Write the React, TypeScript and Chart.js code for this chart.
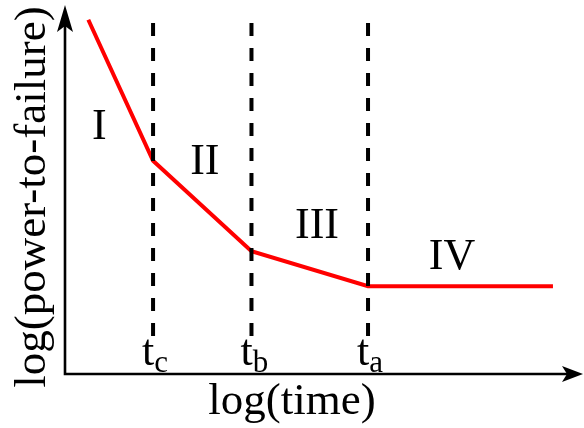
import React, { useEffect, useRef } from "react";
import { Chart, registerables } from "chart.js";

Chart.register(...registerables);

// log(time) breakpoints where the failure mechanism changes
const transitionNames = ["c", "b", "a"];
const transitionTimes = [1.7, 3.6, 5.85];

// red curve: log(time) vs log(power-to-failure)
const curveTime = [0.45, 1.7, 3.6, 5.85, 9.42];
const curvePower = [9.6, 5.78, 3.33, 2.38, 2.38];

// extent of the dashed separators (log power units)
const dashTop = 9.51;
const dashBottom = 0.79;

// regime labels
const regimeNames = ["I", "II", "III", "IV"];
const regimeTime = [0.665, 2.7, 4.865, 7.47];
const regimePower = [6.37, 5.42, 3.68, 2.85];

const xTitle = "log(time)";
const yTitle = "log(power-to-failure)";

const SERIF = '"Liberation Serif", "Times New Roman", serif';

const decorations = {
  id: "decorations",
  afterDraw(chart: any) {
    const { ctx, chartArea, scales } = chart;
    const xs = scales.x;
    const ys = scales.y;
    const left = chartArea.left;
    const bottom = chartArea.bottom;
    ctx.save();
    ctx.fillStyle = "#000";
    ctx.strokeStyle = "#000";

    // axes with arrow heads
    ctx.lineWidth = 2.6;
    ctx.lineCap = "butt";
    ctx.beginPath();
    ctx.moveTo(left, bottom + 1.3);
    ctx.lineTo(left, chartArea.top + 14);
    ctx.moveTo(left - 1.3, bottom);
    ctx.lineTo(chartArea.right - 14, bottom);
    ctx.stroke();

    // y arrow
    const ty = chartArea.top;
    ctx.beginPath();
    ctx.moveTo(left, ty);
    ctx.lineTo(left + 8, ty + 27);
    ctx.lineTo(left, ty + 21);
    ctx.lineTo(left - 8, ty + 27);
    ctx.closePath();
    ctx.fill();

    // x arrow
    const tx = chartArea.right;
    ctx.beginPath();
    ctx.moveTo(tx, bottom);
    ctx.lineTo(tx - 21, bottom - 8);
    ctx.lineTo(tx - 16, bottom);
    ctx.lineTo(tx - 21, bottom + 8);
    ctx.closePath();
    ctx.fill();

    // regime numerals
    ctx.font = `44px ${SERIF}`;
    ctx.textAlign = "center";
    ctx.textBaseline = "alphabetic";
    regimeNames.forEach((name, i) => {
      ctx.fillText(name, xs.getPixelForValue(regimeTime[i]), ys.getPixelForValue(regimePower[i]));
    });

    // transition labels t_c, t_b, t_a
    transitionNames.forEach((sub, i) => {
      const px = xs.getPixelForValue(transitionTimes[i]);
      ctx.textAlign = "left";
      ctx.font = `44px ${SERIF}`;
      const tx0 = px - 11;
      ctx.fillText("t", tx0, bottom - 9);
      const w = ctx.measureText("t").width;
      ctx.font = `31px ${SERIF}`;
      ctx.fillText(sub, tx0 + w, bottom - 2);
    });

    // axis titles
    ctx.font = `45px ${SERIF}`;
    ctx.textAlign = "center";
    ctx.fillText(xTitle, 292, bottom + 40);

    ctx.save();
    ctx.translate(45, 197);
    ctx.rotate(-Math.PI / 2);
    ctx.fillText(yTitle, 0, 0);
    ctx.restore();

    ctx.restore();
  },
};

export default function App() {
  const canvasRef = useRef<HTMLCanvasElement | null>(null);

  useEffect(() => {
    const canvas = canvasRef.current;
    if (!canvas) return;

    const separators = transitionTimes.map((t) => ({
      data: [
        { x: t, y: dashTop },
        { x: t, y: dashBottom },
      ],
      borderColor: "#000",
      borderWidth: 4,
      borderDash: [13, 12],
      borderCapStyle: "butt" as const,
      pointRadius: 0,
      fill: false,
    }));

    const chart = new Chart(canvas, {
      type: "line",
      data: {
        datasets: [
          ...separators,
          {
            data: curveTime.map((t, i) => ({ x: t, y: curvePower[i] })),
            borderColor: "#ff0000",
            borderWidth: 4,
            pointRadius: 0,
            tension: 0,
            fill: false,
          },
        ],
      },
      options: {
        responsive: false,
        animation: false,
        devicePixelRatio: 1,
        layout: { padding: { left: 65, top: 5, right: 1, bottom: 54 } },
        plugins: {
          legend: { display: false },
          tooltip: { enabled: false },
        },
        events: [],
        scales: {
          x: { type: "linear", min: 0, max: 10, display: false },
          y: { type: "linear", min: 0, max: 10, display: false },
        },
      },
      plugins: [decorations],
    });

    return () => chart.destroy();
  }, []);

  return (
    <div style={{ position: "absolute", left: 0, top: 0, width: 584, height: 428, background: "#fff" }}>
      <canvas ref={canvasRef} width={584} height={428} style={{ display: "block" }} />
    </div>
  );
}
